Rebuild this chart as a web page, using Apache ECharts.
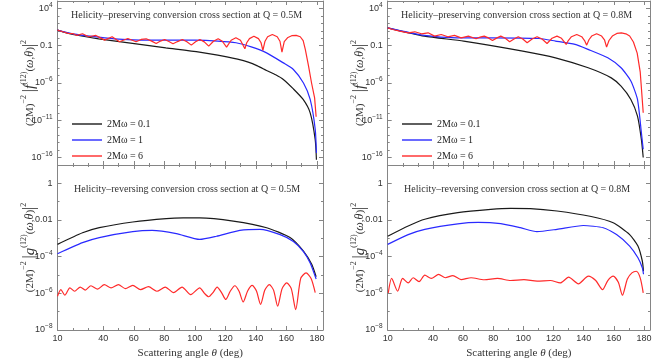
<!DOCTYPE html>
<html>
<head>
<meta charset="utf-8">
<script src="https://cdn.jsdelivr.net/npm/echarts@6.0.0/dist/echarts.min.js"></script>
<style>
html,body{margin:0;padding:0;background:#ffffff;}
#chart{width:655px;height:361px;}
</style>
</head>
<body>
<div id="chart"></div>
<script>
// ---------------- data ----------------
const seriesNames = ['2Mω = 0.1', '2Mω = 1', '2Mω = 6'];
const panelTitles = [
  'Helicity–preserving conversion cross section at Q = 0.5M',
  'Helicity–reversing conversion cross section at Q = 0.5M',
  'Helicity–preserving conversion cross section at Q = 0.8M',
  'Helicity–reversing conversion cross section at Q = 0.8M'
];
const xLabelValues = [10, 40, 60, 80, 100, 120, 140, 160, 180];
const xMinorTickValues = [20, 30, 50, 70, 90, 110, 130, 150, 170];
const xExtent = [10, 184];
const topExtent = [1e-17, 1e5];
const bottomExtent = [1e-8, 1e1];
const topExpExtent = [-17, 5];
const bottomExpExtent = [-8, 1];
const topLabelExponents = [4, -1, -6, -11, -16];
const topMinorExponents = [-17,-15,-14,-13,-12,-10,-9,-8,-7,-5,-4,-3,-2,0,1,2,3,5];
const bottomLabelExponents = [0, -2, -4, -6, -8];
const bottomMinorExponents = [-7, -5, -3, -1, 1];

// Q = 0.5M, helicity-preserving  [theta(deg), (2M)^-2 |f|^2]
const prv05_w01 = [[10,12.3],[20,3.2],[37,0.85],[64,0.15],[81,0.052],[103,0.014],[121,3.2e-3],[128,1.6e-3],[135,6.3e-4],[141,2e-4],[147,4.8e-5],[153,1.26e-5],[158,3.0e-6],[164.6,1.6e-7],[171,6.2e-9],[175.6,1e-10],[178.9,2.5e-14],[179.7,5e-17]];
const prv05_w1 = [[10,12.3],[20,4.0],[37,1.4],[50,0.75],[64,0.58],[80,0.56],[100,0.55],[115,0.42],[127,0.25],[137,0.07],[147,0.011],[158,5e-4],[164.6,6.5e-5],[171.2,1e-6],[175.6,6.3e-9],[178.9,6.3e-13],[179.7,4e-16]];
const prv05_w6 = [[10,12.3],[14,7.0],[17,4.6],[20,4.3],[22.7,2.4],[26.4,4.0],[30.4,1.6],[35.2,2.4],[40.9,0.56],[45.8,1.6],[50.6,0.34],[56.1,0.93],[61.5,0.34],[64.8,0.7],[68.1,0.85],[71.4,0.45],[74.7,0.2],[77.5,0.42],[80.2,0.69],[83,0.36],[85.7,0.18],[88.7,0.36],[91.8,0.69],[94.8,0.34],[97.7,0.12],[100.5,0.34],[103.3,0.69],[106.2,0.33],[109.1,0.087],[112.2,0.4],[115.3,0.85],[118,0.4],[120.8,0.065],[123.8,0.55],[126.9,1.15],[129.9,0.55],[132.8,0.039],[134,0.25],[135.8,0.9],[138.7,1.9],[141.7,0.9],[143.4,0.25],[144.6,0.023],[146,0.4],[147.7,1.6],[150.8,3.2],[154,1.6],[155.8,0.4],[157.1,0.014],[158.6,0.35],[161,1.3],[163.5,2.2],[166.4,2.4],[169.1,1.6],[171,0.5],[172.4,0.032],[174.5,2e-4],[176.5,1e-6],[178.5,1e-8],[179.5,3e-11]];

// Q = 0.5M, helicity-reversing  [theta(deg), (2M)^-2 |g|^2]
const rev05_w01 = [[10,4.7e-4],[26.4,2e-3],[37.4,3.8e-3],[59.3,7.8e-3],[81.3,1.2e-2],[92.3,1.3e-2],[103.2,1.3e-2],[125.2,8.7e-3],[147.1,3.8e-3],[162.4,1.1e-3],[171.2,2e-4],[176.7,3.7e-5],[179.5,8e-6]];
const rev05_w1 = [[10,1.45e-4],[26.4,5.8e-4],[37.4,1.1e-3],[59.3,2.3e-3],[72,2.7e-3],[87.9,1.8e-3],[103.2,8.7e-4],[114.2,1.3e-3],[129.5,2.7e-3],[142.7,3.1e-3],[155.9,1.6e-3],[164.6,6.8e-4],[171.2,1.9e-4],[175.6,4.5e-5],[179.5,6e-6]];
const rev05_w6 = [[10,6.9e-7],[12.2,1.6e-6],[14.8,7.9e-7],[18.1,2.0e-6],[21.2,1.3e-6],[24.9,2.2e-6],[28.2,1.5e-6],[31.9,2.6e-6],[36.3,1.7e-6],[40.7,3.0e-6],[45.1,2.0e-6],[49.9,3.0e-6],[54.5,1.8e-6],[59.3,2.7e-6],[64.4,1.6e-6],[69.6,2.3e-6],[75.1,1.3e-6],[80.6,2.2e-6],[86.1,1.1e-6],[91.6,2.2e-6],[97.3,8.5e-7],[103.2,2.0e-6],[106.3,1.0e-6],[109.1,6.5e-7],[111.9,1.1e-6],[114.6,2.2e-6],[117.5,1.1e-6],[120.3,4.6e-7],[123.2,1.3e-6],[126.2,2.6e-6],[129,1.3e-6],[131.7,3.4e-7],[134.6,1.35e-6],[137.6,2.7e-6],[140.4,1.35e-6],[143.1,2.5e-7],[145.9,1.5e-6],[148.8,3.0e-6],[151.6,1.5e-6],[154.3,2.0e-7],[157.2,1.8e-6],[160.2,3.7e-6],[163.2,1.8e-6],[166.1,1.3e-7],[169.4,6.5e-6],[172.9,1.3e-5],[176.2,6.5e-6],[178.9,1.1e-6]];

// Q = 0.8M, helicity-preserving
const prv08_w01 = [[10,25],[34.3,1.9],[60.4,0.42],[99.6,0.019],[121.3,2.4e-3],[143,1.1e-4],[158.3,4.9e-6],[164.8,3.7e-7],[171.3,6.2e-9],[175.7,3.5e-11],[178.3,2.5e-14],[179.5,1e-16]];
const prv08_w1 = [[10,25],[34.3,2.4],[56,1.15],[77.8,1.15],[110.4,0.93],[121.3,0.42],[134.3,0.15],[143,0.032],[156,2.4e-3],[164.8,1.1e-4],[171.3,1.8e-6],[175.7,6.2e-9],[178.3,2e-13],[179.5,1.3e-15]];
const prv08_w6 = [[10,25],[14,14],[18,8.9],[23.6,5.4],[28,7.4],[32.4,4.0],[36.8,5.4],[41.1,1.95],[45.5,3.24],[49.9,1.58],[54.3,2.4],[58.7,1.15],[63.5,1.95],[68.6,0.85],[71.3,1.41],[74,1.95],[76.8,1.12],[79.5,0.5],[82.2,1.05],[85,1.95],[88,1.0],[90.9,0.34],[93.8,0.79],[96.6,1.58],[99.6,0.79],[102.5,0.245],[105.8,0.79],[109.1,1.58],[112.4,0.79],[115.7,0.2],[119,1.0],[122.3,1.95],[125.3,1.0],[128.4,0.148],[129.8,0.5],[131.9,1.62],[135.4,3.24],[138.7,1.62],[140.6,0.5],[142,0.12],[143.5,0.63],[145.3,2.0],[148.6,3.98],[151.9,2.0],[153.8,0.63],[155.2,0.065],[156.8,0.5],[159,2.0],[162,4.47],[165,5.37],[168,3.98],[170.5,2.0],[173,0.316],[175.5,0.01],[177.5,3.2e-5],[179.5,1e-10]];

// Q = 0.8M, helicity-reversing
const rev08_w01 = [[10,1.3e-3],[23.6,4.7e-3],[34.6,1.1e-2],[56.5,2.5e-2],[78.4,3.8e-2],[91.6,4.3e-2],[104.7,4.2e-2],[122.3,3.1e-2],[144.2,1.6e-2],[159.6,7.1e-3],[170.5,1.6e-3],[176,3.8e-4],[178.9,5.8e-5],[179.7,1.6e-5]];
const rev08_w1 = [[10,4.7e-4],[23.6,1.6e-3],[34.6,3.1e-3],[56.5,6.2e-3],[70,7.4e-3],[85,6.3e-3],[98,3.8e-3],[109,2.3e-3],[122.3,3.1e-3],[139.8,5e-3],[153,3.8e-3],[161.8,1.6e-3],[170.5,3.8e-4],[176,8.7e-5],[178.9,2.5e-5],[179.7,1.1e-5]];
const rev08_w6 = [[10.4,1.07e-6],[12.6,6.5e-6],[16.6,1.3e-6],[19.9,6.5e-6],[23.6,3.7e-6],[26.9,7.1e-6],[30.8,4.3e-6],[34.6,9.8e-6],[38.9,6.5e-6],[43.8,1.07e-5],[48.2,7.1e-6],[53.2,9.3e-6],[58.7,5.6e-6],[65.3,7.1e-6],[74,5.5e-6],[82.8,6.5e-6],[91.6,5.0e-6],[100.4,5.6e-6],[109.1,4.6e-6],[117.9,5.0e-6],[124.5,3.7e-6],[130,7.6e-6],[136.5,3.3e-6],[143.1,8.7e-6],[148,5e-6],[152.5,1.6e-6],[156,5e-6],[159.6,8.7e-6],[163,4e-6],[165.7,7.9e-7],[169,6e-6],[172,1.3e-5],[174.9,1.6e-5],[177.5,7e-6],[179.5,1.07e-6]];

// ---------------- layout / style ----------------
const SERIF = '"Liberation Serif", "DejaVu Serif", serif';
const SANS = '"Liberation Sans", "DejaVu Sans", sans-serif';
const frameColor = '#858585';
const labelColor = '#333333';
const lineColors = ['#1a1a1a', '#2a2aff', '#ff2a2a'];

const panels = [
  { grid: {left: 57.5, top: 1, width: 265.5, height: 164}, kind: 'top', data: [prv05_w01, prv05_w1, prv05_w6], title: panelTitles[0], tl: 71, tt: 10, legend: 72 },
  { grid: {left: 57.5, top: 165, width: 265.5, height: 165}, kind: 'bottom', data: [rev05_w01, rev05_w1, rev05_w6], title: panelTitles[1], tl: 74, tt: 184 },
  { grid: {left: 387.7, top: 1, width: 262.3, height: 164}, kind: 'top', data: [prv08_w01, prv08_w1, prv08_w6], title: panelTitles[2], tl: 401, tt: 10, legend: 402 },
  { grid: {left: 387.7, top: 165, width: 262.3, height: 165}, kind: 'bottom', data: [rev08_w01, rev08_w1, rev08_w6], title: panelTitles[3], tl: 404, tt: 184 }
];

function expLabel(v) {
  const e = Math.round(v);
  if (e === 0) return '1';
  if (e === -1) return '0.1';
  if (e === -2) return '0.01';
  return '10{s|' + (e < 0 ? '−' + (-e) : String(e)) + '}';
}

const yNameRich = {
  a: {fontFamily: SERIF, fontSize: 11, lineHeight: 20, color: '#333'},
  s: {fontFamily: SERIF, fontSize: 8, lineHeight: 10, verticalAlign: 'top', color: '#333'},
  b: {fontFamily: SERIF, fontSize: 16, lineHeight: 20, color: '#333'},
  f: {fontFamily: SERIF, fontSize: 15, fontStyle: 'italic', lineHeight: 20, color: '#333'},
  i: {fontFamily: SERIF, fontSize: 12, fontStyle: 'italic', lineHeight: 20, color: '#333'}
};

const grids = [], xAxes = [], yAxes = [], series = [], titles = [], legends = [];

panels.forEach((p, g) => {
  grids.push(p.grid);
  const isTop = p.kind === 'top';
  const logExt = isTop ? topExtent : bottomExtent;
  const expExt = isTop ? topExpExtent : bottomExpExtent;
  const majorExp = isTop ? topLabelExponents : bottomLabelExponents;
  const minorExp = isTop ? topMinorExponents : bottomMinorExponents;
  const tickLine = {color: frameColor, width: 1};

  const xi = xAxes.length;
  xAxes.push({
    type: 'value', gridIndex: g, position: 'bottom', min: xExtent[0], max: xExtent[1],
    axisLine: {show: true, onZero: false, lineStyle: {color: frameColor, width: 1}},
    axisTick: {show: true, inside: true, length: 4, customValues: xLabelValues, lineStyle: tickLine},
    axisLabel: {show: !isTop, customValues: xLabelValues, margin: 4, fontFamily: SANS, fontSize: 9, color: labelColor},
    splitLine: {show: false},
    name: isTop ? '' : 'Scattering angle {i|θ} (deg)', nameLocation: 'middle', nameGap: 18, nameMoveOverlap: false,
    nameTextStyle: {fontFamily: SERIF, fontSize: 11, color: '#333', rich: {i: {fontFamily: SERIF, fontSize: 11, fontStyle: 'italic', color: '#333'}}}
  });
  xAxes.push({
    type: 'value', gridIndex: g, position: 'bottom', min: xExtent[0], max: xExtent[1],
    axisLine: {show: false, onZero: false},
    axisTick: {show: true, inside: true, length: 2, customValues: xMinorTickValues, lineStyle: tickLine},
    axisLabel: {show: false}, splitLine: {show: false}
  });
  xAxes.push({
    type: 'value', gridIndex: g, position: 'top', min: xExtent[0], max: xExtent[1],
    axisLine: {show: true, onZero: false, lineStyle: {color: frameColor, width: 1}},
    axisTick: {show: true, inside: true, length: 4, customValues: xLabelValues, lineStyle: tickLine},
    axisLabel: {show: false}, splitLine: {show: false}
  });
  xAxes.push({
    type: 'value', gridIndex: g, position: 'top', min: xExtent[0], max: xExtent[1],
    axisLine: {show: false, onZero: false},
    axisTick: {show: true, inside: true, length: 2, customValues: xMinorTickValues, lineStyle: tickLine},
    axisLabel: {show: false}, splitLine: {show: false}
  });

  const yi = yAxes.length;
  yAxes.push({type: 'log', logBase: 10, gridIndex: g, position: 'left', min: logExt[0], max: logExt[1], show: false,
    axisLine: {onZero: false}, splitLine: {show: false}});
  yAxes.push({
    type: 'value', gridIndex: g, position: 'left', min: expExt[0], max: expExt[1],
    axisLine: {show: true, onZero: false, lineStyle: {color: frameColor, width: 1}},
    axisTick: {show: true, inside: true, length: 4, customValues: majorExp, lineStyle: tickLine},
    axisLabel: {show: true, customValues: majorExp, formatter: expLabel, margin: 5, fontFamily: SANS, fontSize: 9, lineHeight: 14, color: labelColor,
      rich: {s: {fontFamily: SANS, fontSize: 6.5, lineHeight: 6, verticalAlign: 'top', color: labelColor}}},
    splitLine: {show: false},
    name: isTop
      ? '{a|(2M)}{s|−2}{a| }{b||}{f|f}{s|(12)}{a|(}{i|ω}{a|,}{i|θ}{a|)}{b||}{s|2}'
      : '{a|(2M)}{s|−2}{a| }{b||}{f|g}{s|(12)}{a|(}{i|ω}{a|,}{i|θ}{a|)}{b||}{s|2}',
    nameLocation: 'middle', nameGap: 17.5, nameRotate: 90, nameMoveOverlap: false,
    nameTextStyle: {rich: yNameRich}
  });
  yAxes.push({
    type: 'value', gridIndex: g, position: 'left', min: expExt[0], max: expExt[1],
    axisLine: {show: false, onZero: false},
    axisTick: {show: true, inside: true, length: 2, customValues: minorExp, lineStyle: tickLine},
    axisLabel: {show: false}, splitLine: {show: false}
  });
  yAxes.push({
    type: 'value', gridIndex: g, position: 'right', min: expExt[0], max: expExt[1],
    axisLine: {show: true, onZero: false, lineStyle: {color: frameColor, width: 1}},
    axisTick: {show: true, inside: true, length: 4, customValues: majorExp, lineStyle: tickLine},
    axisLabel: {show: false}, splitLine: {show: false}
  });
  yAxes.push({
    type: 'value', gridIndex: g, position: 'right', min: expExt[0], max: expExt[1],
    axisLine: {show: false, onZero: false},
    axisTick: {show: true, inside: true, length: 2, customValues: minorExp, lineStyle: tickLine},
    axisLabel: {show: false}, splitLine: {show: false}
  });

  p.data.forEach((d, k) => {
    let sm = false;
    if (k < 2) sm = 0.2;
    else if (!isTop) sm = 0.25;
    series.push({
      type: 'line', name: seriesNames[k], xAxisIndex: xi, yAxisIndex: yi, data: d,
      symbol: 'none', showSymbol: false, smooth: sm,
      lineStyle: {color: lineColors[k], width: 1.2}, itemStyle: {color: lineColors[k]},
      emphasis: {disabled: true}, clip: true, z: 3
    });
  });

  titles.push({text: p.title, left: p.tl, top: p.tt, padding: 0,
    textStyle: {fontFamily: SERIF, fontSize: 10, fontWeight: 'normal', color: '#333'}});

  if (p.legend !== undefined) {
    legends.push({show: true, left: p.legend, top: 118, orient: 'vertical', padding: 0,
      data: seriesNames, icon: 'rect', itemWidth: 30, itemHeight: 1.4, itemGap: 4, selectedMode: false,
      textStyle: {fontFamily: SERIF, fontSize: 10, lineHeight: 12, color: '#222'}});
  }
});

const chart = echarts.init(document.getElementById('chart'), null, {renderer: 'canvas'});
chart.setOption({
  animation: false,
  backgroundColor: '#ffffff',
  title: titles,
  legend: legends,
  grid: grids,
  xAxis: xAxes,
  yAxis: yAxes,
  series: series
});
</script>
</body>
</html>
